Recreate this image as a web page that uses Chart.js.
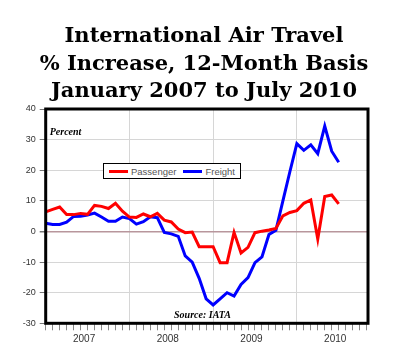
<!DOCTYPE html>
<html>
<head>
<meta charset="utf-8">
<title>International Air Travel</title>
<script src="https://cdn.jsdelivr.net/npm/chart.js@4.4.0/dist/chart.umd.min.js"></script>
<style>
  body { margin: 0; background: #fff; }
  #wrap { position: relative; width: 400px; height: 363px; overflow: hidden; }
  #chart { position: absolute; left: 0; top: 0; }
  #title {
    position: absolute; left: 0; top: 21px; width: 408px;
    text-align: center; color: #000;
    font: bold 21px/27.5px "DejaVu Serif", serif;
  }
  #legend {
    position: absolute; left: 103px; top: 163px; width: 136px; height: 14px;
    border: 1px solid #000; background: #fff;
    display: flex; align-items: center;
    font: 9.5px "Liberation Sans", Arial, sans-serif; color: #555;
  }
  #legend .item { display: flex; align-items: center; margin-left: 5px; }
  #legend .item + .item { margin-left: 7px; }
  #legend .swatch { display: inline-block; width: 19px; height: 3px; margin-right: 3px; }
</style>
</head>
<body>
<div id="wrap">
  <canvas id="chart" width="400" height="363"></canvas>
  <div id="title">International Air Travel<br>% Increase, 12-Month Basis<br>January 2007 to July 2010</div>
  <div id="legend"></div>
</div>
<script>
// months Jan 2007 .. Jul 2010, one point per month
const years = ['2007', '2008', '2009', '2010'];
const monthNames = ['Jan', 'Feb', 'Mar', 'Apr', 'May', 'Jun', 'Jul', 'Aug', 'Sep', 'Oct', 'Nov', 'Dec'];
const months = [];
years.forEach(function (y) {
  monthNames.forEach(function (m) {
    if (months.length < 43) months.push(m + ' ' + y);
  });
});

const passenger = [
  6.4, 7.2, 8.0, 5.5, 5.5, 5.9, 5.6, 8.5, 8.2, 7.5, 9.2, 6.6,
  4.7, 4.6, 5.7, 4.8, 5.9, 3.7, 3.1, 0.8, -0.4, -0.2, -5.0, -5.0,
  -5.0, -10.2, -10.2, -0.3, -7.0, -5.2, -0.4, 0.1, 0.5, 1.0, 5.1, 6.2,
  6.8, 9.2, 10.3, -2.5, 11.4, 11.9, 9.0
];
const freight = [
  2.7, 2.3, 2.3, 3.0, 4.9, 5.0, 5.4, 6.0, 4.7, 3.3, 3.3, 4.7,
  4.2, 2.4, 3.2, 4.8, 4.5, -0.3, -0.8, -1.6, -8.0, -10.0, -15.3, -22.0,
  -24.0, -22.0, -20.0, -21.1, -17.3, -15.1, -10.2, -8.3, -1.0, 0.4, 10.0, 19.5,
  28.7, 26.5, 28.3, 25.4, 34.4, 26.2, 22.6
];

const yTicks = [-30, -20, -10, 0, 10, 20, 30, 40];
const yearLabels = years;

function points(values) {
  return values.map(function (v, i) { return { x: i, y: v }; });
}

// black frame around the plot + the two notes
const frame = {
  id: 'frame',
  afterDraw(chart) {
    const ctx = chart.ctx;
    const a = chart.chartArea;
    const x = chart.scales.x, y = chart.scales.y;
    ctx.save();
    ctx.strokeStyle = '#000';
    ctx.lineWidth = 3;
    ctx.strokeRect(a.left, a.top, a.right - a.left, a.bottom - a.top);
    ctx.fillStyle = '#000';
    ctx.font = 'italic bold 10px "Liberation Serif", serif';
    ctx.textBaseline = 'middle';
    ctx.fillText('Percent', a.left + 4, y.getPixelForValue(32.3));
    ctx.fillText('Source: IATA', x.getPixelForValue(18.4), y.getPixelForValue(-27.3));
    ctx.restore();
  }
};

const chart = new Chart(document.getElementById('chart'), {
  type: 'line',
  data: {
    labels: months,
    datasets: [
      { label: 'Passenger', data: points(passenger), borderColor: '#ff0000', backgroundColor: '#ff0000' },
      { label: 'Freight', data: points(freight), borderColor: '#0000ff', backgroundColor: '#0000ff' }
    ]
  },
  options: {
    responsive: false,
    animation: false,
    layout: { padding: { left: 0, right: 32, top: 109, bottom: 11.7 } },
    elements: {
      line: { borderWidth: 3, tension: 0 },
      point: { radius: 0 }
    },
    plugins: {
      legend: { display: false },
      tooltip: { enabled: false }
    },
    scales: {
      x: {
        type: 'linear',
        min: 0,
        max: 46.2,
        afterBuildTicks: function (s) {
          s.ticks = [];
          for (let i = 0; i <= 46; i++) s.ticks.push({ value: i });
        },
        afterFit: function (s) { s.height = 6; },
        border: { display: false },
        grid: {
          color: function (c) {
            const v = c.tick ? c.tick.value : 0;
            return (v > 0 && v % 12 === 0) ? '#d6d6d6' : 'rgba(0,0,0,0)';
          },
          tickColor: '#888',
          tickLength: 7
        },
        ticks: { display: false, autoSkip: false }
      },
      x2: {
        type: 'linear',
        position: 'bottom',
        min: 0,
        max: 46.2,
        afterBuildTicks: function (s) {
          s.ticks = yearLabels.map(function (y, k) { return { value: 5.5 + 12 * k }; });
        },
        afterFit: function (s) { s.height = 22; },
        border: { display: false },
        grid: { display: false, drawTicks: false, tickLength: 0 },
        ticks: {
          autoSkip: false,
          maxRotation: 0,
          padding: 4,
          color: '#333',
          font: { family: '"Liberation Sans", Arial, sans-serif', size: 10 },
          callback: function (v, i) { return yearLabels[i]; }
        }
      },
      y: {
        min: -30,
        max: 40,
        afterBuildTicks: function (s) {
          s.ticks = yTicks.map(function (v) { return { value: v }; });
        },
        afterFit: function (s) { s.width = 45.7; },
        border: { display: false },
        grid: {
          color: function (c) {
            return c.tick && c.tick.value === 0 ? '#b8969c' : '#d6d6d6';
          },
          lineWidth: function (c) {
            return c.tick && c.tick.value === 0 ? 1.5 : 1;
          },
          tickColor: '#777',
          tickLength: 6
        },
        ticks: {
          padding: 4,
          color: '#333',
          font: { family: '"Liberation Sans", Arial, sans-serif', size: 9 }
        }
      }
    }
  },
  plugins: [frame]
});

// html legend built from the datasets
const legend = document.getElementById('legend');
chart.data.datasets.forEach(function (ds) {
  const item = document.createElement('span');
  item.className = 'item';
  item.innerHTML = '<span class="swatch" style="background:' + ds.borderColor + '"></span>' + ds.label;
  legend.appendChild(item);
});
</script>
</body>
</html>
